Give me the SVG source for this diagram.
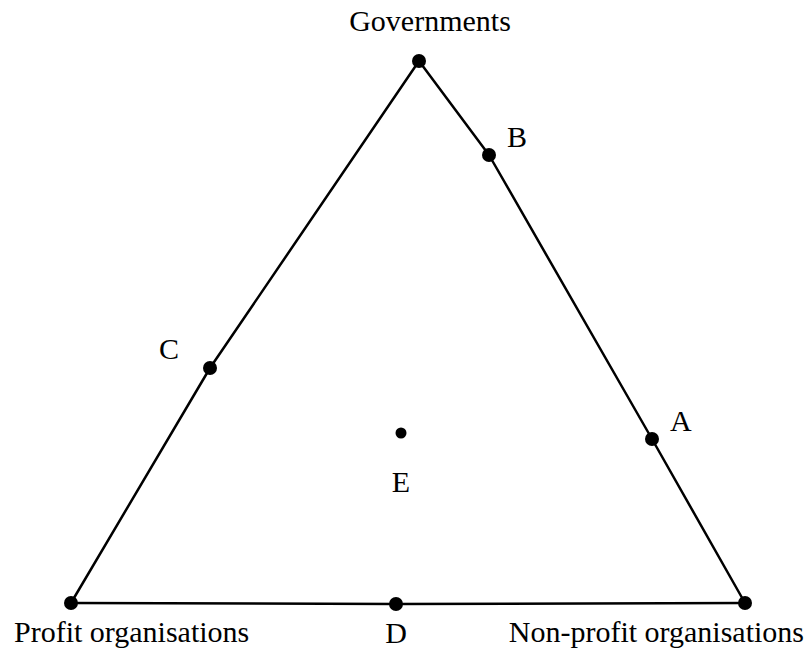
<svg xmlns="http://www.w3.org/2000/svg" width="811" height="654" viewBox="0 0 811 654">
<style>
.edge{fill:none;stroke:#000;stroke-width:2.5;stroke-linejoin:round}
.dot{fill:#000}
text{font-family:"Liberation Serif","Times New Roman",serif;font-size:30px;fill:#000}
</style>
<rect width="811" height="654" fill="#fff"/>
<g id="connectors">
<polyline class="edge" points="419,61 489,155 652,439 745,603"/>
<polyline class="edge" points="419,61 210,368 71,603"/>
<polyline class="edge" points="71,603 396,604 745,603"/>
</g>
<g id="governments"><circle class="dot" cx="419" cy="61" r="7"/><text x="430" y="31" text-anchor="middle">Governments</text></g>
<g id="B"><circle class="dot" cx="489" cy="155" r="7"/><text x="507" y="147">B</text></g>
<g id="C"><circle class="dot" cx="210" cy="368" r="7"/><text x="159" y="359">C</text></g>
<g id="A"><circle class="dot" cx="652" cy="439" r="7"/><text x="670" y="431">A</text></g>
<g id="E"><circle class="dot" cx="401" cy="433" r="5.5"/><text x="401" y="492" text-anchor="middle">E</text></g>
<g id="profit"><circle class="dot" cx="71" cy="603" r="7"/><text x="14" y="642">Profit organisations</text></g>
<g id="D"><circle class="dot" cx="396" cy="604" r="7"/><text x="396" y="643" text-anchor="middle">D</text></g>
<g id="nonprofit"><circle class="dot" cx="745" cy="603" r="7"/><text x="804" y="642" text-anchor="end">Non-profit organisations</text></g>
</svg>
